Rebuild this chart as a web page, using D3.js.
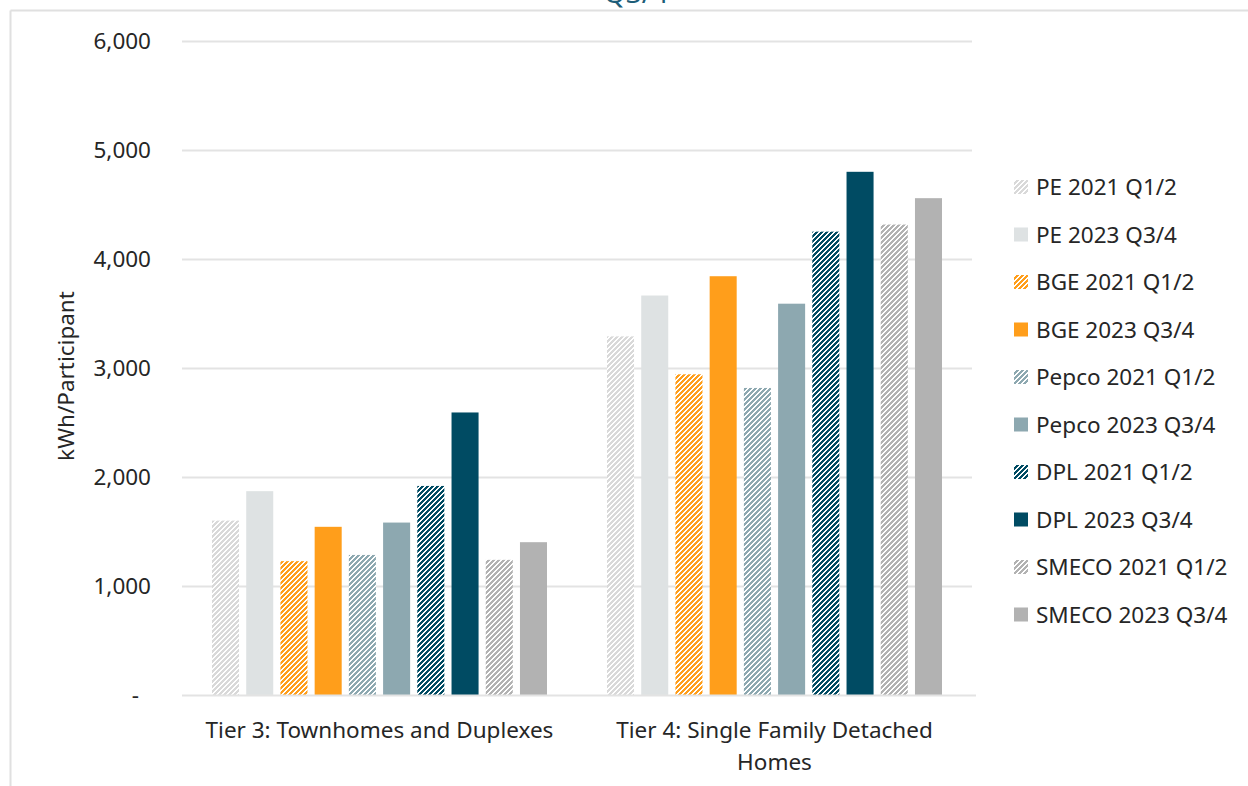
<!DOCTYPE html>
<html>
<head>
<meta charset="utf-8">
<script src="https://cdn.jsdelivr.net/npm/d3@7"></script>
<style>
  html, body { margin: 0; padding: 0; background: #fff; }
  svg { display: block; font-family: "Noto Sans", "Open Sans", sans-serif; }
</style>
</head>
<body>
<svg id="chart" width="1248" height="786"></svg>
<script>
// Housing tiers on the x axis
const categories = ["Tier 3: Townhomes and Duplexes", "Tier 4: Single Family Detached Homes"];

// Series names (utility + period)
const seriesNames = [
  "PE 2021 Q1/2", "PE 2023 Q3/4",
  "BGE 2021 Q1/2", "BGE 2023 Q3/4",
  "Pepco 2021 Q1/2", "Pepco 2023 Q3/4",
  "DPL 2021 Q1/2", "DPL 2023 Q3/4",
  "SMECO 2021 Q1/2", "SMECO 2023 Q3/4"
];

// kWh per participant, one entry per tier
const pe2021    = [1600, 3290];
const pe2023    = [1870, 3665];
const bge2021   = [1228, 2942];
const bge2023   = [1543, 3842];
const pepco2021 = [1285, 2817];
const pepco2023 = [1582, 3590];
const dpl2021   = [1918, 4251];
const dpl2023   = [2592, 4800];
const smeco2021 = [1240, 4316];
const smeco2023 = [1402, 4558];

const yTicks = [0, 1000, 2000, 3000, 4000, 5000, 6000];

const seriesValues = [pe2021, pe2023, bge2021, bge2023, pepco2021, pepco2023, dpl2021, dpl2023, smeco2021, smeco2023];

// Utility colours; 2021 series are hatched, 2023 series solid
const seriesColors = ["#d9d9d9", "#dee2e3", "#ff9e1b", "#ff9e1b", "#8da8b0", "#8da8b0", "#004b63", "#004b63", "#b2b2b2", "#b2b2b2"];
const seriesHatched = [true, false, true, false, true, false, true, false, true, false];

const svg = d3.select("#chart");
const textColor = "#262626";
const gridColor = "#e3e3e3";
const fontSize = 22.5;

// Outer frame (top and left edges)
svg.append("line").attr("x1", 10.5).attr("x2", 1248).attr("y1", 10.5).attr("y2", 10.5)
  .attr("stroke", "#e0e0e0").attr("stroke-width", 2);
svg.append("line").attr("x1", 10.5).attr("x2", 10.5).attr("y1", 10.5).attr("y2", 786)
  .attr("stroke", "#e0e0e0").attr("stroke-width", 2);

// Title, mostly above the visible area
svg.append("text").attr("x", 636).attr("y", 3).attr("text-anchor", "middle")
  .attr("font-size", 28).attr("fill", "#1d5d78").text("Q3/4");

// Hatch patterns: pixel staircase diagonals, period 5 px
const defs = svg.append("defs");
const period = 5;
seriesColors.forEach((c, i) => {
  if (!seriesHatched[i]) return;
  const p = defs.append("pattern").attr("id", "hatch" + i)
    .attr("patternUnits", "userSpaceOnUse").attr("width", period).attr("height", period);
  p.append("rect").attr("width", period).attr("height", period).attr("fill", "#fff");
  for (let yy = 0; yy < period; yy++) {
    for (let xx = 0; xx < period; xx++) {
      if ((xx + yy) % period < 3) {
        p.append("rect").attr("x", xx).attr("y", yy).attr("width", 1).attr("height", 1)
          .attr("fill", c).attr("shape-rendering", "crispEdges");
      }
    }
  }
});
const fillFor = i => seriesHatched[i] ? `url(#hatch${i})` : seriesColors[i];

// Scales
const plot = { left: 182, right: 972, top: 41, bottom: 695 };
const y = d3.scaleLinear().domain([0, 6000]).range([plot.bottom, plot.top]);
const x0 = d3.scaleBand().domain(categories).range([plot.left, plot.right]).paddingInner(0).paddingOuter(0);
const x1 = d3.scaleBand().domain(seriesNames).range([30, x0.bandwidth() - 30]).paddingInner(0.21).paddingOuter(0);

// Gridlines
svg.append("g").selectAll("line").data(yTicks.filter(t => t > 0)).join("line")
  .attr("x1", plot.left).attr("x2", plot.right)
  .attr("y1", d => Math.round(y(d)) + 0.5).attr("y2", d => Math.round(y(d)) + 0.5)
  .attr("stroke", gridColor).attr("stroke-width", 2);

// Y axis labels
const yAxis = d3.axisLeft(y).tickValues(yTicks).tickSize(0).tickPadding(0)
  .tickFormat(d => d === 0 ? "-" : d3.format(",")(d));
const yg = svg.append("g").attr("transform", `translate(151,0)`).call(yAxis);
yg.select(".domain").remove();
yg.selectAll("text").attr("font-size", fontSize).attr("fill", textColor)
  .attr("font-family", "'Noto Sans', sans-serif");
yg.selectAll(".tick").filter(d => d === 0).select("text").attr("x", -12);

// Y axis title
svg.append("text")
  .attr("transform", `translate(74,376) rotate(-90)`)
  .attr("text-anchor", "middle").attr("font-size", fontSize).attr("fill", textColor)
  .text("kWh/Participant");

// Bars
const groups = svg.append("g").selectAll("g").data(categories).join("g")
  .attr("transform", d => `translate(${x0(d)},0)`);
groups.selectAll("rect").data((d, ci) => seriesNames.map((s, si) => ({ s, si, v: seriesValues[si][ci] })))
  .join("rect")
  .attr("x", d => x1(d.s))
  .attr("width", x1.bandwidth())
  .attr("y", d => y(d.v))
  .attr("height", d => y(0) - y(d.v))
  .attr("fill", d => fillFor(d.si));

// Baseline
svg.append("line").attr("x1", plot.left).attr("x2", plot.right + 4)
  .attr("y1", plot.bottom + 0.5).attr("y2", plot.bottom + 0.5)
  .attr("stroke", gridColor).attr("stroke-width", 2);

// Category labels (wrapped)
const xAxis = d3.axisBottom(x0).tickSize(0).tickPadding(0);
const xg = svg.append("g").attr("transform", `translate(0,${plot.bottom})`).call(xAxis);
xg.select(".domain").remove();
xg.selectAll("text").each(function (d) {
  const t = d3.select(this);
  t.text(null).attr("y", 0).attr("dy", null)
    .attr("font-size", fontSize).attr("fill", textColor).attr("font-family", "'Noto Sans', sans-serif");
  const lines = d.startsWith("Tier 4") ? ["Tier 4: Single Family Detached", "Homes"] : [d];
  lines.forEach((ln, k) => t.append("tspan").attr("x", 0).attr("y", 43 + k * 32).text(ln));
});

// Legend
const legend = svg.append("g").attr("transform", "translate(1014,187)");
const items = legend.selectAll("g").data(seriesNames).join("g")
  .attr("transform", (d, i) => `translate(0,${i * 47.5})`);
items.append("rect").attr("x", 0).attr("y", -7).attr("width", 14).attr("height", 14)
  .attr("fill", (d, i) => fillFor(i));
items.append("text").attr("x", 22).attr("y", 8).attr("font-size", fontSize).attr("fill", textColor)
  .text(d => d);
</script>
</body>
</html>
